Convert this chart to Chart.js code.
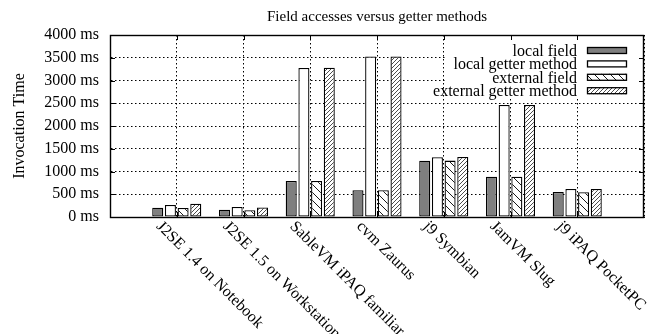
<!DOCTYPE html>
<html>
<head>
<meta charset="utf-8">
<script src="https://cdn.jsdelivr.net/npm/chart.js@4"></script>
<style>
  html, body { margin: 0; padding: 0; background: #fff; }
  #wrap { width: 654px; height: 334px; }
</style>
</head>
<body>
<div id="wrap"><canvas id="chart" width="654" height="334"></canvas></div>
<script>
const categories = ['J2SE 1.4 on Notebook', 'J2SE 1.5 on Workstation', 'SableVM iPAQ familiar',
    'cvm Zaurus', 'j9 Symbian', 'JamVM Slug', 'j9 iPAQ PocketPC'];
const seriesNames = ['local field', 'local getter method', 'external field', 'external getter method'];
const localField = [205, 160, 790, 590, 1235, 885, 550];
const localGetter = [265, 220, 3275, 3530, 1315, 2460, 615];
const externalField = [200, 150, 790, 590, 1240, 885, 545];
const externalGetter = [290, 210, 3280, 3530, 1320, 2460, 615];
const yTicks = [0, 500, 1000, 1500, 2000, 2500, 3000, 3500, 4000];

const serif = '"Liberation Serif", "Times New Roman", serif';

// hatch fills like the gnuplot patterns
const makeHatch = (size, back, width) => {
    const c = document.createElement('canvas');
    c.width = size; c.height = size;
    const g = c.getContext('2d');
    g.fillStyle = '#fff';
    g.fillRect(0, 0, size, size);
    g.strokeStyle = '#000';
    g.lineWidth = width;
    g.beginPath();
    if (back) {
        g.moveTo(0, 0); g.lineTo(size, size);
        g.moveTo(-1, size - 1); g.lineTo(1, size + 1);
        g.moveTo(size - 1, -1); g.lineTo(size + 1, 1);
    } else {
        g.moveTo(0, size); g.lineTo(size, 0);
        g.moveTo(-1, 1); g.lineTo(1, -1);
        g.moveTo(size - 1, size + 1); g.lineTo(size + 1, size - 1);
    }
    g.stroke();
    return g.createPattern(c, 'repeat');
};

const ctx = document.getElementById('chart').getContext('2d');
const fills = ['#7f7f7f', '#ffffff', makeHatch(8, true, 0.9), makeHatch(4, false, 0.7)];
const values = [localField, localGetter, externalField, externalGetter];

// empty slots at both ends so the groups sit on 1..7 of 0..8
const labels = ['', ...categories, ''];
const pad = arr => [null, ...arr, null];

const frameAndLegend = {
    id: 'frameAndLegend',
    afterDatasetsDraw(chart) {
        const { ctx, chartArea: a } = chart;
        // legend background hides the grid behind it
        ctx.save();
        ctx.fillStyle = '#fff';
        ctx.fillRect(a.right - 197, a.top, 197, 64);
        ctx.font = '16px ' + serif;
        ctx.textAlign = 'right';
        ctx.textBaseline = 'middle';
        chart.data.datasets.forEach((ds, i) => {
            const y = a.top + 15.5 + i * 13.4;
            ctx.fillStyle = '#000';
            ctx.fillText(ds.label, a.right - 67, y + 1);
            ctx.fillStyle = ds.backgroundColor;
            ctx.fillRect(a.right - 57, y - 3.5, 40, 7);
            ctx.strokeStyle = '#000';
            ctx.lineWidth = 1.3;
            ctx.strokeRect(a.right - 56.5, y - 3, 39, 6);
        });
        ctx.restore();
    },
    afterDraw(chart) {
        const { ctx, chartArea: a, scales } = chart;
        ctx.save();
        ctx.strokeStyle = '#000';
        ctx.lineWidth = 1;
        ctx.beginPath();
        scales.y.ticks.forEach(t => {
            const y = Math.round(scales.y.getPixelForValue(t.value)) + 0.5;
            ctx.moveTo(a.left, y); ctx.lineTo(a.left + 5, y);
            ctx.moveTo(a.right, y); ctx.lineTo(a.right - 5, y);
        });
        for (let i = 1; i <= categories.length; i++) {
            const x = Math.round(scales.x.getPixelForValue(i)) + 0.5;
            ctx.moveTo(x, a.top); ctx.lineTo(x, a.top + 5);
            ctx.moveTo(x, a.bottom); ctx.lineTo(x, a.bottom - 5);
        }
        ctx.stroke();
        ctx.lineWidth = 1.4;
        ctx.strokeRect(a.left + 0.5, a.top + 0.5, a.right - a.left - 1, a.bottom - a.top);

        // slanted category labels, reading down to the right
        ctx.fillStyle = '#000';
        ctx.font = '16px ' + serif;
        ctx.textAlign = 'left';
        ctx.textBaseline = 'middle';
        categories.forEach((name, i) => {
            const x = scales.x.getPixelForValue(i + 1);
            ctx.save();
            ctx.translate(x - 18, a.bottom + 7);
            ctx.rotate(Math.PI / 4);
            ctx.fillText(name, 0, 0);
            ctx.restore();
        });
        ctx.restore();
    }
};

new Chart(ctx, {
    type: 'bar',
    data: {
        labels: labels,
        datasets: seriesNames.map((name, i) => ({
            label: name,
            data: pad(values[i]),
            backgroundColor: fills[i],
            borderColor: '#000',
            borderWidth: 1.3,
            borderSkipped: false,
            categoryPercentage: 0.76,
            barPercentage: 0.87
        }))
    },
    plugins: [frameAndLegend],
    options: {
        responsive: false,
        animation: false,
        layout: { padding: { left: 0, right: 10, top: 0, bottom: 0 } },
        plugins: {
            legend: { display: false },
            tooltip: { enabled: false },
            title: {
                display: true,
                text: 'Field accesses versus getter methods',
                fullSize: false,
                color: '#000',
                font: { family: serif, size: 15, weight: 'normal' },
                padding: { top: 8, bottom: 9 }
            }
        },
        scales: {
            x: {
                offset: false,
                grid: {
                    offset: false,
                    drawTicks: false,
                    color: '#000',
                    lineWidth: 1
                },
                border: { display: true, color: '#000', dash: [1.5, 2.5] },
                ticks: { display: false },
                afterFit: (scale) => { scale.height = 117; }
            },
            y: {
                min: 0,
                max: 4000,
                afterBuildTicks: (scale) => { scale.ticks = yTicks.map(v => ({ value: v })); },
                grid: {
                    drawTicks: false,
                    color: '#000',
                    lineWidth: 1
                },
                border: { display: true, color: '#000', dash: [1.5, 2.5] },
                ticks: {
                    padding: 11,
                    color: '#000',
                    font: { family: serif, size: 16 },
                    callback: (v) => v + ' ms'
                },
                title: {
                    display: true,
                    text: 'Invocation Time',
                    color: '#000',
                    font: { family: serif, size: 16 },
                    padding: { top: 10, bottom: 0 }
                },
                afterFit: (scale) => { scale.width = 110; }
            }
        }
    }
});
</script>
</body>
</html>
